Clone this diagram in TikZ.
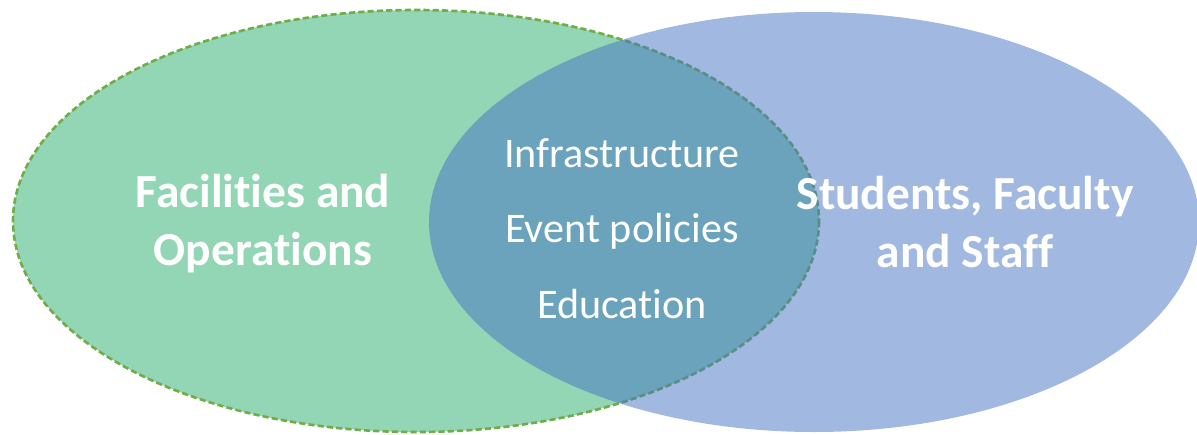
\documentclass[tikz,border=0pt]{standalone}
\usepackage{fontspec}
\setmainfont{Carlito}[Ligatures=NoCommon]
\usetikzlibrary{positioning}
\definecolor{facgreen}{HTML}{92D6B6}
\definecolor{facline}{HTML}{70AD47}
\definecolor{stublue}{HTML}{4371C1}
\tikzset{setlabel/.style={text=white, font=\fontsize{27}{33}\selectfont\bfseries, align=center, inner sep=0pt},
         midlabel/.style={text=white, font=\fontsize{24}{29}\selectfont, inner sep=0pt, anchor=base}}

\begin{document}
\begin{tikzpicture}[x=0.02cm,y=-0.02cm]
   \useasboundingbox (0,0) rectangle (1197,434);
   \clip (0,0) rectangle (1197,434);
   % the two sets
   \fill[facgreen] (416,221) ellipse[x radius=403, y radius=211];
   \draw[facline, line width=1.5pt, dash pattern=on 3.5pt off 1.8pt] (416,221) ellipse[x radius=403, y radius=211];
   \fill[stublue, fill opacity=0.5] (814,222) ellipse[x radius=385, y radius=210];
   % labels
   \node[setlabel] (fac) at (263,224) {Facilities and\\Operations};
   \node[setlabel] (stu) at (965,222) {Students, Faculty\\and Staff};
   \node[midlabel] (infra) at (622,167) {Infrastructure};
   \node[midlabel] (event) at (622,242) {Event policies};
   \node[midlabel] (edu) at (622,318) {Education};
\end{tikzpicture}
\end{document}
